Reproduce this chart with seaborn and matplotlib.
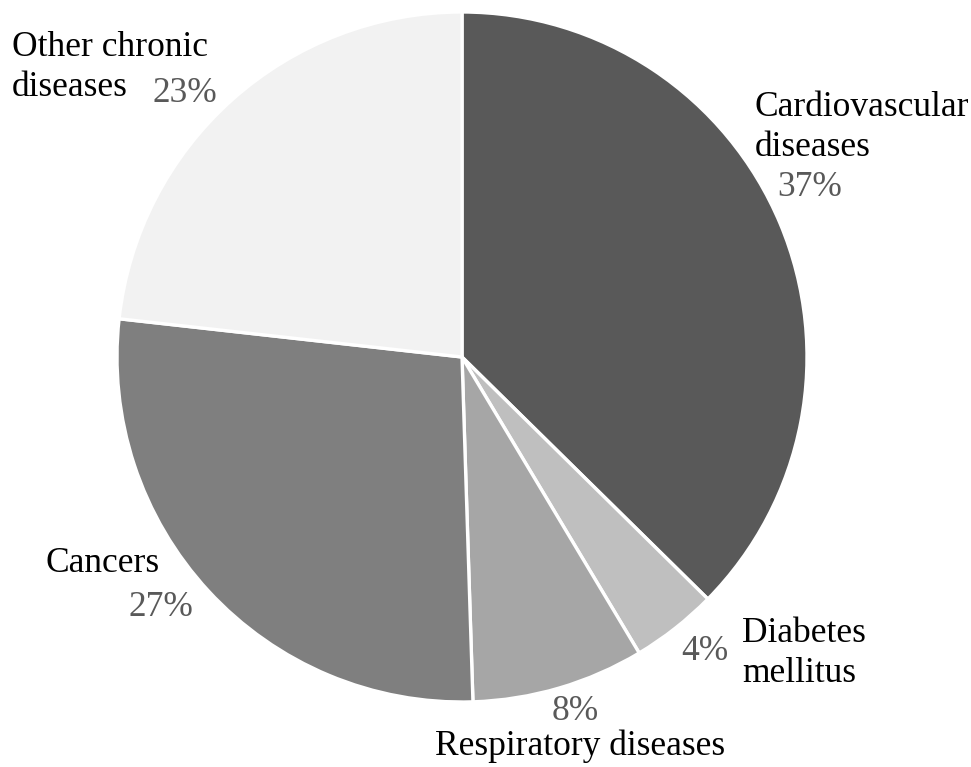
import matplotlib
matplotlib.use("Agg")
import matplotlib.pyplot as plt
import seaborn as sns

# Share of deaths by cause
categories = ["Cardiovascular\ndiseases", "Diabetes\nmellitus", "Respiratory diseases",
              "Cancers", "Other chronic\ndiseases"]
values = [37, 4, 8, 27, 23]
colors = ["#595959", "#bfbfbf", "#a6a6a6", "#7f7f7f", "#f2f2f2"]

sns.set_theme(style="white")
plt.rcParams["font.family"] = ["Liberation Serif", "DejaVu Serif"]

W, H = 971, 767
fig = plt.figure(figsize=(W / 100, H / 100), dpi=100)
cx, cy, r = 462, 357, 345
ax = fig.add_axes([(cx - r) / W, (H - cy - r) / H, 2 * r / W, 2 * r / H])

ax.pie(values, colors=colors, startangle=90, counterclock=False, radius=1,
       wedgeprops=dict(edgecolor="white", linewidth=2.4))
ax.set_xlim(-1, 1)
ax.set_ylim(-1, 1)
ax.set_aspect("equal")
ax.axis("off")


def px(x, y):
    """Convert figure pixel position to pie data coordinates."""
    return (x - cx) / r, (cy - y) / r


fs = 25.5
line_gap = 40  # pixels between label lines
label_color = "black"
pct_color = "#595959"

# (first line x, first line y, label_ha, pct x, pct y) in pixels
layout = [
    (755, 103, "left", 810, 184),
    (742, 630, "left", 705, 647),
    (580, 742, "center", 575, 707),
    (160, 560, "right", 161, 604),
    (12, 44, "left", 185, 89),
]

for cat, val, (lx, ly, ha, qx, qy) in zip(categories, values, layout):
    for i, line in enumerate(cat.split("\n")):
        ax.text(*px(lx, ly + i * line_gap), line, ha=ha, va="center_baseline",
                fontsize=fs, color=label_color, clip_on=False)
    ax.text(*px(qx, qy), f"{val}%", ha="center", va="center_baseline",
            fontsize=fs, color=pct_color, clip_on=False)

fig.savefig("out.png", dpi=100)
